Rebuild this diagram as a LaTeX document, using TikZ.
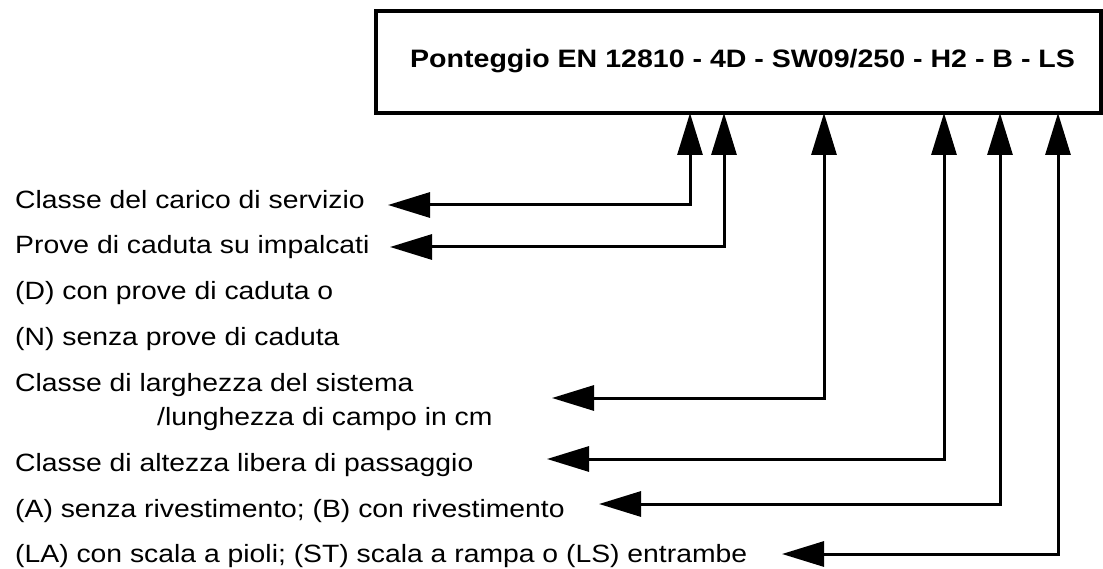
\documentclass[tikz,border=0pt]{standalone}
\usepackage{fontspec}
\setmainfont{Liberation Sans}[FakeStretch=1.133]
\usetikzlibrary{arrows.meta}
\begin{document}
\begin{tikzpicture}[x=1pt,y=-1pt,
  lbl/.style={anchor=base west, inner sep=0pt, font=\fontsize{25}{30}\selectfont},
  conn/.style={line width=3pt, line join=miter,
    {Triangle[length=42pt,width=25pt]}-{Triangle[length=42pt,width=25pt]}},
  titlebox/.style={draw, line width=3.5pt, minimum width=725pt, minimum height=102pt, inner sep=0pt}]
\useasboundingbox (0,0) rectangle (1103,569);
\node[titlebox] (box) at (738.5,62) {};
\node[anchor=base west, inner sep=0pt, font=\bfseries\fontsize{25.2}{30}\selectfont] (title) at (410,68) {Ponteggio EN 12810 - 4D - SW09/250 - H2 - B - LS};
% labels
\node[lbl] (l1) at (15,209) {Classe del carico di servizio};
\node[lbl] (l2) at (15,254) {Prove di caduta su impalcati};
\node[lbl] (l3) at (15,300) {(D) con prove di caduta o};
\node[lbl] (l4) at (15,345) {(N) senza prove di caduta};
\node[lbl] (l5) at (15,391) {Classe di larghezza del sistema};
\node[lbl] (l6) at (157,425) {/lunghezza di campo in cm};
\node[lbl] (l7) at (15,471) {Classe di altezza libera di passaggio};
\node[lbl] (l8) at (15,517) {(A) senza rivestimento; (B) con rivestimento};
\node[lbl] (l9) at (15,562) {(LA) con scala a pioli; (ST) scala a rampa o (LS) entrambe};
% connector end points
\coordinate (s1) at (690,113);
\coordinate (s2) at (724,113);
\coordinate (s3) at (824,113);
\coordinate (s4) at (944,113);
\coordinate (s5) at (1000,113);
\coordinate (s6) at (1058,113);
\coordinate (t1) at (388,205);
\coordinate (t2) at (390,247);
\coordinate (t3) at (552,398);
\coordinate (t4) at (547,459);
\coordinate (t5) at (599,504);
\coordinate (t6) at (782,554);
\draw[conn] (t1) -| (s1);
\draw[conn] (t2) -| (s2);
\draw[conn] (t3) -| (s3);
\draw[conn] (t4) -| (s4);
\draw[conn] (t5) -| (s5);
\draw[conn] (t6) -| (s6);
\end{tikzpicture}
\end{document}
